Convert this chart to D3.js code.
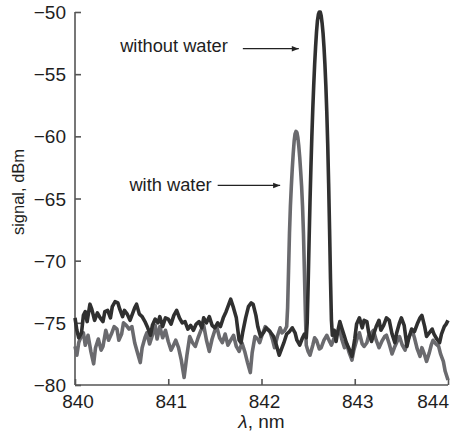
<!DOCTYPE html>
<html>
<head>
<meta charset="utf-8">
<script src="https://cdnjs.cloudflare.com/ajax/libs/d3/7.8.5/d3.min.js"></script>
<style>
  body { margin: 0; background: #fff; }
  text { font-family: "Liberation Sans", Arial, sans-serif; fill: #1e1e1e; }
</style>
</head>
<body>
<div id="chart"></div>
<script>
// spectrum without water (dark trace)
var dryLambda = [
  840.00, 840.02, 840.04, 840.07, 840.09, 840.11, 840.13, 840.16, 840.18, 840.21,
  840.24, 840.27, 840.30, 840.32, 840.35, 840.38, 840.40, 840.43, 840.46, 840.48,
  840.51, 840.53, 840.56, 840.59, 840.61, 840.64, 840.66, 840.69, 840.72, 840.75,
  840.78, 840.81, 840.83, 840.86, 840.89, 840.91, 840.94, 840.97, 841.00, 841.03,
  841.06, 841.09, 841.12, 841.15, 841.18, 841.21, 841.24, 841.27, 841.30, 841.33,
  841.36, 841.38, 841.41, 841.44, 841.47, 841.50, 841.53, 841.56, 841.59, 841.62,
  841.65, 841.67, 841.70, 841.73, 841.76, 841.78, 841.80, 841.83, 841.86, 841.89,
  841.91, 841.94, 841.96, 841.99, 842.02, 842.05, 842.08, 842.11, 842.13, 842.16,
  842.19, 842.22, 842.24, 842.27, 842.30, 842.33, 842.36, 842.38, 842.41, 842.44,
  842.46, 842.48, 842.49, 842.50, 842.51, 842.52, 842.53, 842.54, 842.55, 842.56,
  842.57, 842.58, 842.59, 842.60, 842.61, 842.62, 842.63, 842.64, 842.65, 842.66,
  842.67, 842.68, 842.69, 842.70, 842.71, 842.72, 842.73, 842.74, 842.75, 842.76,
  842.78, 842.80, 842.82, 842.84, 842.86, 842.89, 842.91, 842.94, 842.97, 843.00,
  843.02, 843.05, 843.08, 843.10, 843.13, 843.15, 843.18, 843.20, 843.23, 843.26,
  843.28, 843.31, 843.34, 843.37, 843.40, 843.43, 843.45, 843.48, 843.50, 843.53,
  843.56, 843.58, 843.61, 843.64, 843.67, 843.70, 843.72, 843.75, 843.77, 843.80,
  843.83, 843.85, 843.88, 843.91, 843.93, 843.96, 843.98, 844.00
];
var drySignal = [
  -74.6, -75.6, -76.2, -75.8, -74.4, -74.1, -74.9, -73.5, -73.9, -74.8,
  -74.2, -74.6, -74.9, -74.1, -74.0, -74.6, -73.7, -73.3, -73.4, -73.9,
  -74.5, -74.0, -74.3, -74.8, -74.4, -73.8, -73.5, -74.3, -74.5, -74.9,
  -75.4, -76.0, -75.2, -74.7, -75.0, -74.5, -75.3, -74.6, -74.7, -75.1,
  -74.4, -74.0, -74.6, -75.0, -74.9, -75.5, -75.2, -75.6, -75.1, -74.9,
  -75.4, -74.6, -75.0, -74.5, -75.2, -75.4, -75.0, -75.3, -74.6, -74.1,
  -73.5, -73.1, -73.8, -74.6, -76.4, -76.6, -75.7, -74.6, -73.7, -73.4,
  -73.5, -74.4, -75.3, -76.1, -75.8, -75.4, -75.6, -75.9, -76.1, -76.8,
  -77.6, -77.0, -76.6, -75.9, -75.7, -75.4, -75.8, -76.4, -76.8, -76.2,
  -75.9, -76.2, -75.0, -72.0, -68.5, -65.3, -62.5, -60.0, -57.8, -55.9,
  -54.2, -52.8, -51.6, -50.7, -50.2, -50.0, -50.0, -50.3, -50.9, -51.7,
  -52.8, -54.2, -55.9, -58.0, -60.6, -63.8, -67.5, -71.5, -74.8, -76.0,
  -75.6, -76.5, -75.6, -74.9, -75.4, -76.1, -76.6, -77.1, -77.7, -76.3,
  -75.1, -74.6, -75.4, -74.8, -74.9, -75.8, -76.5, -76.0, -75.3, -74.8,
  -75.6, -75.2, -74.6, -74.8, -75.9, -76.6, -75.8, -75.0, -74.6, -75.2,
  -76.9, -76.2, -75.5, -75.7, -75.1, -74.6, -74.4, -75.3, -76.1, -75.8,
  -75.5, -75.9, -76.3, -76.6, -75.9, -75.3, -75.1, -74.8
];

// spectrum with water (grey trace)
var wetLambda = [
  840.00, 840.02, 840.04, 840.06, 840.09, 840.11, 840.14, 840.17, 840.20, 840.22,
  840.25, 840.28, 840.30, 840.33, 840.36, 840.39, 840.42, 840.45, 840.47, 840.50,
  840.52, 840.55, 840.58, 840.61, 840.64, 840.67, 840.70, 840.72, 840.75, 840.77,
  840.80, 840.83, 840.86, 840.88, 840.91, 840.94, 840.97, 841.00, 841.03, 841.05,
  841.08, 841.11, 841.14, 841.17, 841.20, 841.23, 841.26, 841.29, 841.32, 841.35,
  841.38, 841.41, 841.44, 841.47, 841.50, 841.52, 841.55, 841.58, 841.61, 841.64,
  841.67, 841.70, 841.73, 841.76, 841.79, 841.82, 841.85, 841.88, 841.90, 841.93,
  841.96, 841.98, 842.01, 842.04, 842.06, 842.09, 842.12, 842.14, 842.17, 842.20,
  842.22, 842.25, 842.27, 842.28, 842.29, 842.30, 842.31, 842.32, 842.33, 842.34,
  842.35, 842.36, 842.37, 842.38, 842.39, 842.40, 842.41, 842.42, 842.43, 842.44,
  842.45, 842.46, 842.47, 842.48, 842.50, 842.52, 842.55, 842.57, 842.59, 842.62,
  842.64, 842.67, 842.70, 842.73, 842.75, 842.78, 842.81, 842.84, 842.86, 842.89,
  842.91, 842.94, 842.97, 842.99, 843.02, 843.05, 843.08, 843.10, 843.13, 843.15,
  843.18, 843.20, 843.23, 843.26, 843.29, 843.32, 843.34, 843.37, 843.40, 843.43,
  843.46, 843.48, 843.51, 843.54, 843.56, 843.59, 843.62, 843.64, 843.67, 843.70,
  843.72, 843.75, 843.77, 843.80, 843.82, 843.84, 843.87, 843.90, 843.92, 843.95,
  843.97, 844.00
];
var wetSignal = [
  -76.9, -77.6, -76.6, -76.2, -75.8, -76.8, -76.0, -77.3, -78.3, -77.0,
  -76.3, -77.2, -76.9, -75.6, -76.4, -75.9, -75.3, -75.5, -76.4, -75.9,
  -75.0, -75.2, -75.5, -75.3, -76.6, -77.4, -78.2, -77.0, -76.2, -75.8,
  -76.7, -76.0, -75.2, -76.3, -75.3, -76.2, -75.6, -76.5, -77.2, -76.9,
  -76.4, -77.0, -78.0, -79.4, -77.6, -76.1, -76.6, -76.9, -76.2, -75.6,
  -75.2, -76.4, -77.3, -76.3, -75.6, -75.3, -76.2, -76.6, -75.9, -76.8,
  -76.4, -76.0, -76.9, -77.3, -76.6, -77.3, -78.2, -79.0, -77.4, -76.1,
  -76.3, -76.6, -75.9, -75.3, -75.5, -75.7, -76.4, -77.0, -76.1, -75.4,
  -75.8, -75.6, -75.3, -73.8, -70.8, -67.8, -65.6, -64.0, -62.6, -61.4,
  -60.4, -59.8, -59.6, -59.7, -60.1, -60.8, -61.7, -62.8, -64.0, -65.6,
  -67.8, -70.8, -74.0, -76.8, -77.3, -77.6, -76.8, -76.2, -76.4, -77.1,
  -77.0, -76.4, -76.0, -76.5, -76.8, -76.2, -75.8, -75.6, -76.3, -77.0,
  -76.6, -77.4, -78.0, -77.2, -76.4, -75.8, -76.7, -76.9, -76.6, -76.0,
  -75.8, -75.6, -76.4, -77.0, -76.5, -76.1, -76.0, -76.7, -77.5, -76.9,
  -76.4, -76.1, -76.8, -77.2, -76.6, -76.0, -75.7, -76.2, -77.1, -77.7,
  -77.0, -77.6, -78.1, -77.4, -76.8, -76.4, -76.7, -76.9, -77.5, -78.1,
  -78.9, -79.6
];

var xTicks = [840, 841, 842, 843, 844];
var yTicks = [-80, -75, -70, -65, -60, -55, -50];

// annotations: label, arrow tail and arrow tip (wavelength, dBm)
var noteText = ["without water", "with water"];
var noteTail = [[841.80, -52.95], [841.53, -63.95]];
var noteTip = [[842.40, -52.95], [842.20, -63.95]];

var width = 457, height = 434;
var margin = {left: 75, right: 9, top: 12, bottom: 49};

var svg = d3.select("#chart").append("svg")
    .attr("width", width)
    .attr("height", height);

var x = d3.scaleLinear()
    .domain([840, 844])
    .range([margin.left, width - margin.right]);
var y = d3.scaleLinear()
    .domain([-80, -50])
    .range([height - margin.bottom, margin.top]);

svg.append("defs").append("marker")
    .attr("id", "arrowhead")
    .attr("viewBox", "0 -5 10 10")
    .attr("refX", 10)
    .attr("refY", 0)
    .attr("orient", "auto")
    .attr("markerUnits", "userSpaceOnUse")
    .attr("markerWidth", 9)
    .attr("markerHeight", 7)
    .append("path")
    .attr("d", "M0,-4L10,0L0,4Z")
    .attr("fill", "#222");

// axes
var xAxis = svg.append("g")
    .attr("transform", "translate(0," + y(-80) + ")")
    .call(d3.axisTop(x).tickValues(xTicks).tickSize(6).tickFormat(""));
var yAxis = svg.append("g")
    .attr("transform", "translate(" + x(840) + ",0)")
    .call(d3.axisRight(y).tickValues(yTicks).tickSize(6).tickFormat(""));

[xAxis, yAxis].forEach(function (g) {
    g.select(".domain").attr("stroke", "#555").attr("stroke-width", 1.6);
    g.selectAll(".tick line").attr("stroke", "#555").attr("stroke-width", 1.6);
});
// axis lines without the end caps d3 draws
xAxis.select(".domain").attr("d", "M" + x(840) + ",0H" + x(844));
yAxis.select(".domain").attr("d", "M0," + y(-50) + "V" + y(-80));

svg.selectAll(".xlabel")
    .data(xTicks)
    .enter()
    .append("text")
    .attr("class", "xlabel")
    .attr("x", function (d, i) {return i === xTicks.length - 1 ? x(d) + 1 : x(d) + 3;})
    .attr("y", y(-80) + 23)
    .attr("text-anchor", function (d, i) {return i === xTicks.length - 1 ? "end" : "middle";})
    .style("font-size", "19px")
    .text(function (d) {return d;});

svg.selectAll(".ylabel")
    .data(yTicks)
    .enter()
    .append("text")
    .attr("class", "ylabel")
    .attr("x", x(840) - 9)
    .attr("y", function (d) {return y(d) + 7;})
    .attr("text-anchor", "end")
    .style("font-size", "19px")
    .text(function (d) {return "\u2212" + Math.abs(d);});

var xTitle = svg.append("text")
    .attr("x", (x(840) + x(844)) / 2)
    .attr("y", 428)
    .attr("text-anchor", "middle")
    .style("font-size", "19px");
xTitle.append("tspan").style("font-style", "italic").text("\u03bb");
xTitle.append("tspan").text(", nm");

svg.append("text")
    .attr("transform", "translate(24," + 192 + ") rotate(-90)")
    .attr("text-anchor", "middle")
    .style("font-size", "16.5px")
    .text("signal, dBm");

// traces
var line = d3.line()
    .x(function (d) {return x(d[0]);})
    .y(function (d) {return y(d[1]);});

var wet = wetLambda.map(function (l, i) {return [l, wetSignal[i]];});
var dry = dryLambda.map(function (l, i) {return [l, drySignal[i]];});

svg.append("path")
    .attr("d", line(wet))
    .attr("fill", "none")
    .attr("stroke", "#6a6a6e")
    .attr("stroke-width", 3.6)
    .attr("stroke-linejoin", "round");

svg.append("path")
    .attr("d", line(dry))
    .attr("fill", "none")
    .attr("stroke", "#303030")
    .attr("stroke-width", 3.6)
    .attr("stroke-linejoin", "round");

// annotations
var textGap = [15, 6];
var textDrop = [3.5, 6];
noteText.forEach(function (t, i) {
    svg.append("line")
        .attr("x1", x(noteTail[i][0]))
        .attr("y1", y(noteTail[i][1]))
        .attr("x2", x(noteTip[i][0]))
        .attr("y2", y(noteTip[i][1]))
        .attr("stroke", "#222")
        .attr("stroke-width", 1.3)
        .attr("marker-end", "url(#arrowhead)");
    svg.append("text")
        .attr("x", x(noteTail[i][0]) - textGap[i])
        .attr("y", y(noteTail[i][1]) + textDrop[i])
        .attr("text-anchor", "end")
        .style("font-size", "18.3px")
        .text(t);
});
</script>
</body>
</html>
